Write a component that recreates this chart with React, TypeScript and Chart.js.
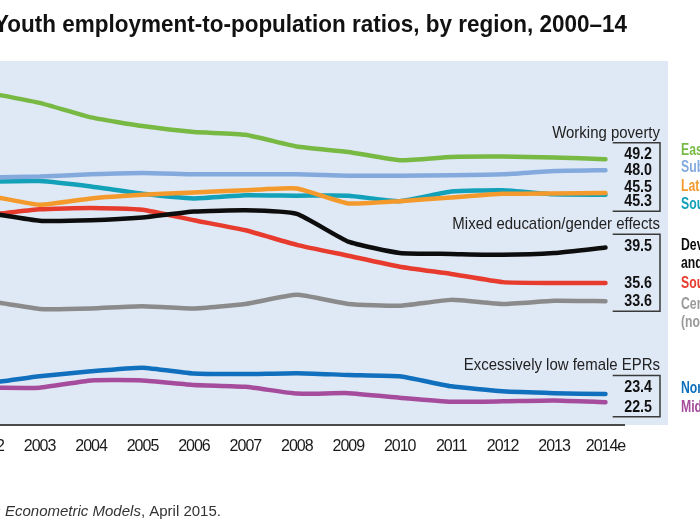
import React, { useEffect, useRef } from "react";
import { Chart, registerables } from "chart.js";
Chart.register(...registerables);

const years = [2000, 2001, 2002, 2003, 2004, 2005, 2006, 2007, 2008, 2009, 2010, 2011, 2012, 2013, 2014];
const yearLabels = ["2000", "2001", "2002", "2003", "2004", "2005", "2006", "2007", "2008", "2009", "2010", "2011", "2012", "2013", "2014e"];

const eastAsia = [58.5, 57.5, 56.5, 55.4, 53.8, 52.85, 52.2, 51.9, 50.6, 50.0, 49.1, 49.45, 49.5, 49.4, 49.2];
const subSaharanAfrica = [47.0, 47.1, 47.2, 47.3, 47.55, 47.7, 47.55, 47.55, 47.55, 47.4, 47.4, 47.45, 47.55, 47.9, 48.0];
const latinAmerica = [45.8, 45.5, 45.2, 44.2, 44.9, 45.3, 45.55, 45.8, 46.0, 44.35, 44.6, 45.0, 45.4, 45.45, 45.5];
const southEastAsia = [46.5, 46.6, 46.75, 46.8, 46.2, 45.4, 44.9, 45.25, 45.2, 45.2, 44.6, 45.65, 45.8, 45.35, 45.3];
const developedEconomies = [44.5, 43.9, 43.3, 42.45, 42.5, 42.8, 43.45, 43.6, 43.2, 40.15, 38.9, 38.8, 38.7, 38.9, 39.5];
const southAsia = [43.0, 43.0, 43.1, 43.7, 43.85, 43.65, 42.5, 41.4, 39.8, 38.6, 37.4, 36.6, 35.7, 35.6, 35.6];
const centralSEEurope = [33.0, 33.3, 33.6, 32.75, 32.8, 33.05, 32.8, 33.3, 34.3, 33.3, 33.1, 33.75, 33.3, 33.65, 33.6];
const northAfrica = [24.0, 24.3, 24.6, 25.35, 25.9, 26.3, 25.65, 25.6, 25.7, 25.5, 25.35, 24.25, 23.7, 23.5, 23.4];
const middleEast = [24.0, 24.0, 24.1, 24.1, 24.9, 24.9, 24.4, 24.2, 23.45, 23.5, 23.0, 22.55, 22.6, 22.7, 22.5];

const regionNames = [
  ["East Asia"],
  ["Sub-Saharan Africa"],
  ["Latin America and the Caribbean"],
  ["South-East Asia and the Pacific"],
  ["Developed Economies", "and European Union"],
  ["South Asia"],
  ["Central and South-Eastern Europe", "(non-EU) and CIS"],
  ["North Africa"],
  ["Middle East"],
];
const series = [eastAsia, subSaharanAfrica, latinAmerica, southEastAsia, developedEconomies, southAsia, centralSEEurope, northAfrica, middleEast];
const colors = ["#78b944", "#84aadd", "#f49a2c", "#12a1b8", "#0d0d0d", "#e73b2d", "#8b8b8b", "#1170bd", "#a64c9d"];
const legendColors = ["#78b944", "#84aadd", "#f49a2c", "#12a1b8", "#0d0d0d", "#e73b2d", "#9a9a9a", "#1170bd", "#a64c9d"];

const groupNames = ["Working poverty", "Mixed education/gender effects", "Excessively low female EPRs"];
const groupMembers = [[0, 1, 2, 3], [4, 5, 6], [7, 8]];

const titleText = "Youth employment-to-population ratios, by region, 2000\u201314";
const sourceLead = "Source: ILO, ";
const sourceItalic = "Trends Econometric Models";
const sourceTail = ", April 2015.";

const SANS = "'Liberation Sans', Arial, sans-serif";
const OFFSET = 160; // canvas shifted left (the picture is a crop)

// label placement tweaks (pixels) relative to line-end pixel
const valueShift = [-4.6, -0.3, -5.8, 6.6, -1.2, -0.2, 0, -6.6, 4.6];
const nameShift = [-9.3, -2.6, -6.6, 9.9, -2.6, -0.2, 2.6, -5.6, 4.6];

function textC(ctx: CanvasRenderingContext2D, text: string, x: number, y: number, align: string, font: string, sx: number) {
  ctx.save();
  ctx.font = font;
  ctx.textAlign = "left";
  const w = ctx.measureText(text).width * sx;
  const x0 = align === "right" ? x - w : align === "center" ? x - w / 2 : x;
  ctx.translate(x0, y);
  ctx.scale(sx, 1);
  ctx.fillText(text, 0, 0);
  ctx.restore();
}

const decorPlugin = {
  id: "decor",
  beforeDraw(chart: any) {
    const { ctx, chartArea } = chart;
    ctx.save();
    ctx.fillStyle = "#dfe8f5";
    ctx.fillRect(0, chartArea.top, chartArea.right + 44, chartArea.bottom - chartArea.top);
    ctx.restore();
    (ctx as any).letterSpacing = "-1px";
  },
  beforeDatasetsDraw(chart: any) {
    (chart.ctx as any).letterSpacing = "0px";
  },
  afterDraw(chart: any) {
    const { ctx, chartArea } = chart;
    (ctx as any).letterSpacing = "0px";
    const ys = chart.scales.y;
    const R = chartArea.right;
    ctx.save();

    // title
    ctx.font = `bold 24px ${SANS}`;
    ctx.fillStyle = "#111";
    ctx.textBaseline = "alphabetic";
    ctx.textAlign = "left";
    const tw = ctx.measureText(titleText).width;
    const target = 633;
    ctx.save();
    ctx.translate(OFFSET - 6, 32);
    ctx.scale(target / tw, 1);
    ctx.fillText(titleText, 0, 0);
    ctx.restore();

    // groups
    groupMembers.forEach((members, gi) => {
      const labelYs = members.map((i) => ys.getPixelForValue(series[i][series[i].length - 1]) + valueShift[i]);
      const top = labelYs[0] - 12;
      const bottom = labelYs[labelYs.length - 1] + 10;
      ctx.strokeStyle = "#3a3a3a";
      ctx.lineWidth = 1.5;
      ctx.beginPath();
      ctx.moveTo(R - 11.3, top);
      ctx.lineTo(R + 36, top);
      ctx.lineTo(R + 36, bottom);
      ctx.lineTo(R - 11.3, bottom);
      ctx.stroke();

      ctx.fillStyle = "#222";
      ctx.textBaseline = "alphabetic";
      textC(ctx, groupNames[gi], R + 36, top - 5, "right", `17px ${SANS}`, 0.88);

      members.forEach((i, k) => {
        const v = series[i][series[i].length - 1];
        ctx.fillStyle = "#111";
        ctx.textBaseline = "middle";
        textC(ctx, v.toFixed(1), R + 28, labelYs[k], "right", `bold 17px ${SANS}`, 0.84);

        const ny = ys.getPixelForValue(v) + nameShift[i];
        ctx.fillStyle = legendColors[i];
        regionNames[i].forEach((line, li) => {
          textC(ctx, line, R + 57, ny + li * 18, "left", `bold 17px ${SANS}`, 0.72);
        });
      });
    });

    // source
    ctx.textBaseline = "alphabetic";
    ctx.textAlign = "left";
    ctx.fillStyle = "#333";
    ctx.font = `italic 15px ${SANS}`;
    const wTrends = ctx.measureText("Trends ").width;
    const italicStart = OFFSET + 5 - wTrends;
    ctx.font = `15px ${SANS}`;
    const wLead = ctx.measureText(sourceLead).width;
    ctx.fillText(sourceLead, italicStart - wLead, 516);
    ctx.font = `italic 15px ${SANS}`;
    ctx.fillText(sourceItalic, italicStart, 516);
    const wIt = ctx.measureText(sourceItalic).width;
    ctx.font = `15px ${SANS}`;
    ctx.fillText(sourceTail, italicStart + wIt, 516);

    ctx.restore();
  },
};

export default function App() {
  const ref = useRef<HTMLCanvasElement>(null);
  useEffect(() => {
    const datasets = series.map((s, i) => ({
      label: regionNames[i].join(" "),
      data: s.map((v, k) => ({ x: years[k], y: v })),
      borderColor: colors[i],
      backgroundColor: colors[i],
      borderWidth: 4.5,
      pointRadius: 0,
      tension: 0.15,
      borderCapStyle: "round" as const,
      borderJoinStyle: "round" as const,
      fill: false,
    }));
    const chart = new Chart(ref.current!, {
      type: "line",
      data: { datasets },
      plugins: [decorPlugin],
      options: {
        animation: false,
        responsive: false,
        maintainAspectRatio: false,
        layout: { padding: { left: 45.3, right: 76, top: 61, bottom: 50 } },
        plugins: { legend: { display: false }, title: { display: false }, tooltip: { enabled: false } },
        scales: {
          x: {
            type: "linear",
            min: 2000,
            max: 2014.36,
            afterBuildTicks: (scale: any) => {
              scale.ticks = years.map((y) => ({ value: y }));
            },
            afterFit: (scale: any) => {
              scale.height = 50;
            },
            grid: { display: false, drawTicks: false },
            border: { display: true, color: "#4a4a4a", width: 2 },
            ticks: {
              autoSkip: false,
              maxRotation: 0,
              padding: 12,
              color: "#1a1a1a",
              font: { family: SANS, size: 16 },
              callback: (v: any) => {
                const idx = years.indexOf(Number(v));
                return idx >= 0 ? yearLabels[idx] : "";
              },
            },
          },
          y: { display: false, min: 20, max: 60 },
        },
      },
    });
    return () => chart.destroy();
  }, []);
  return (
    <div style={{ position: "absolute", left: 0, top: 0, width: 700, height: 525, overflow: "hidden", background: "#fff" }}>
      <canvas ref={ref} width={860} height={525} style={{ position: "absolute", left: -OFFSET, top: 0, width: 860, height: 525 }} />
    </div>
  );
}
